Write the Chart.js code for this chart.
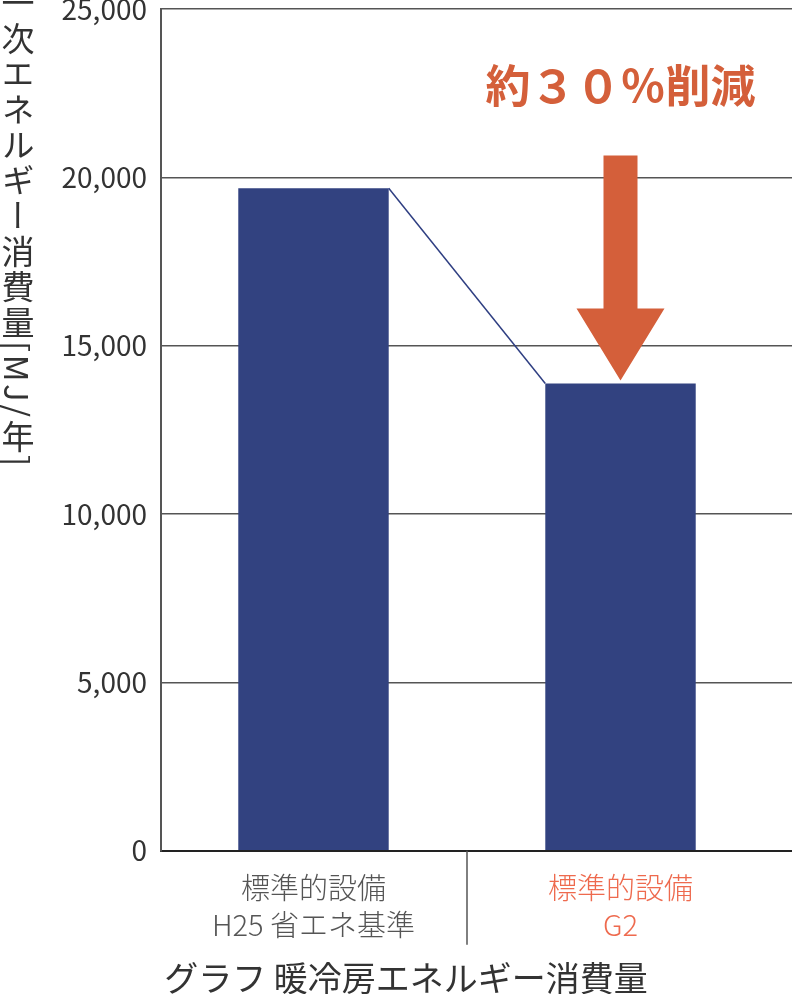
<!DOCTYPE html>
<html lang="ja">
<head>
<meta charset="utf-8">
<script src="https://cdn.jsdelivr.net/npm/chart.js@4"></script>
<style>
  html, body { margin: 0; padding: 0; background: #fff; }
  #wrap { position: relative; width: 792px; height: 994px; overflow: hidden; }
  #yTitle {
    position: absolute; left: 0; top: -14px; width: 36px;
    writing-mode: vertical-rl;
    font-family: "Noto Sans CJK JP", sans-serif;
    font-size: 33px; line-height: 36px; letter-spacing: 2.5px;
    color: #333;
  }
</style>
</head>
<body>
<div id="wrap">
  <canvas id="chart" width="792" height="994"></canvas>
  <div id="yTitle">一次エネルギー消費量[MJ/年]</div>
</div>
<script>
// Data
const categories = [['標準的設備', 'H25 省エネ基準'], ['標準的設備', 'G2']]
const energyValues = [19680, 13880]
const yTicks = [0, 5000, 10000, 15000, 20000, 25000]
const labelColors = ['#555555', '#ee6a4e']
const reductionLabel = '約３０％削減'
const chartTitle = 'グラフ 暖冷房エネルギー消費量'

const FONT = '"Noto Sans CJK JP", sans-serif'
const ORANGE = '#d45f3a'

// connector line, arrow, text and the divider under the x axis
const annotate = {
  id: 'annotate',
  afterDatasetsDraw(chart) {
    const ctx = chart.ctx
    const bars = chart.getDatasetMeta(0).data
    const a = bars[0], b = bars[1]
    ctx.save()
    ctx.strokeStyle = '#2f3f82'
    ctx.lineWidth = 1.5
    ctx.beginPath()
    ctx.moveTo(a.x + a.width / 2, a.y)
    ctx.lineTo(b.x - b.width / 2, b.y)
    ctx.stroke()

    const tip = b.y - 3, base = tip - 72, top = tip - 225
    ctx.fillStyle = ORANGE
    ctx.beginPath()
    ctx.moveTo(b.x - 17, top)
    ctx.lineTo(b.x + 17, top)
    ctx.lineTo(b.x + 17, base)
    ctx.lineTo(b.x + 44, base)
    ctx.lineTo(b.x, tip)
    ctx.lineTo(b.x - 44, base)
    ctx.lineTo(b.x - 17, base)
    ctx.closePath()
    ctx.fill()

    ctx.font = 'bold 45px ' + FONT
    ctx.textAlign = 'center'
    ctx.textBaseline = 'middle'
    ctx.fillText(reductionLabel, b.x, top - 70)
    ctx.restore()
  },
  afterDraw(chart) {
    const x = chart.scales.x
    const mid = (x.getPixelForValue(0) + x.getPixelForValue(1)) / 2
    const ctx = chart.ctx
    ctx.save()
    ctx.strokeStyle = '#555'
    ctx.lineWidth = 1.5
    ctx.beginPath()
    ctx.moveTo(mid, x.top)
    ctx.lineTo(mid, x.top + 94)
    ctx.stroke()
    ctx.restore()
  }
}

new Chart(document.getElementById('chart'), {
  type: 'bar',
  data: {
    datasets: [{
      data: energyValues.map((v, i) => ({ x: i, y: v })),
      backgroundColor: '#324280',
      categoryPercentage: 1,
      barPercentage: 0.49
    }]
  },
  options: {
    responsive: false,
    animation: false,
    layout: { padding: { left: 20, right: 0, top: 0, bottom: 0 } },
    plugins: {
      legend: { display: false },
      tooltip: { enabled: false },
      title: {
        display: true,
        position: 'bottom',
        text: chartTitle,
        color: '#333',
        font: { family: FONT, size: 34, weight: 'normal', lineHeight: 0.94 },
        padding: { top: 0, bottom: 0 }
      }
    },
    scales: {
      x: {
        type: 'linear',
        offset: false,
        min: -0.4967,
        max: 1.5586,
        afterBuildTicks: s => { s.ticks = categories.map((c, i) => ({ value: i })) },
        grid: { display: false, drawTicks: false },
        border: { display: true, color: '#222', width: 2 },
        ticks: {
          padding: 18.5,
          autoSkip: false,
          maxRotation: 0,
          callback: v => categories[v],
          color: ctx => labelColors[ctx.index],
          font: { family: FONT, size: 29, weight: 300, lineHeight: 1.28 }
        }
      },
      y: {
        min: 0,
        max: 25000,
        afterBuildTicks: s => { s.ticks = yTicks.map(v => ({ value: v })) },
        afterFit: s => { s.width = 141 },
        grid: { color: '#555', lineWidth: 1.5, drawTicks: true, tickLength: 14, tickColor: 'rgba(0,0,0,0)' },
        border: { display: true, color: '#555', width: 2 },
        ticks: {
          padding: 0,
          color: '#333',
          callback: v => v.toLocaleString('en-US'),
          font: { family: FONT, size: 28, lineHeight: 0.65 }
        }
      }
    }
  },
  plugins: [annotate]
})
</script>
</body>
</html>
